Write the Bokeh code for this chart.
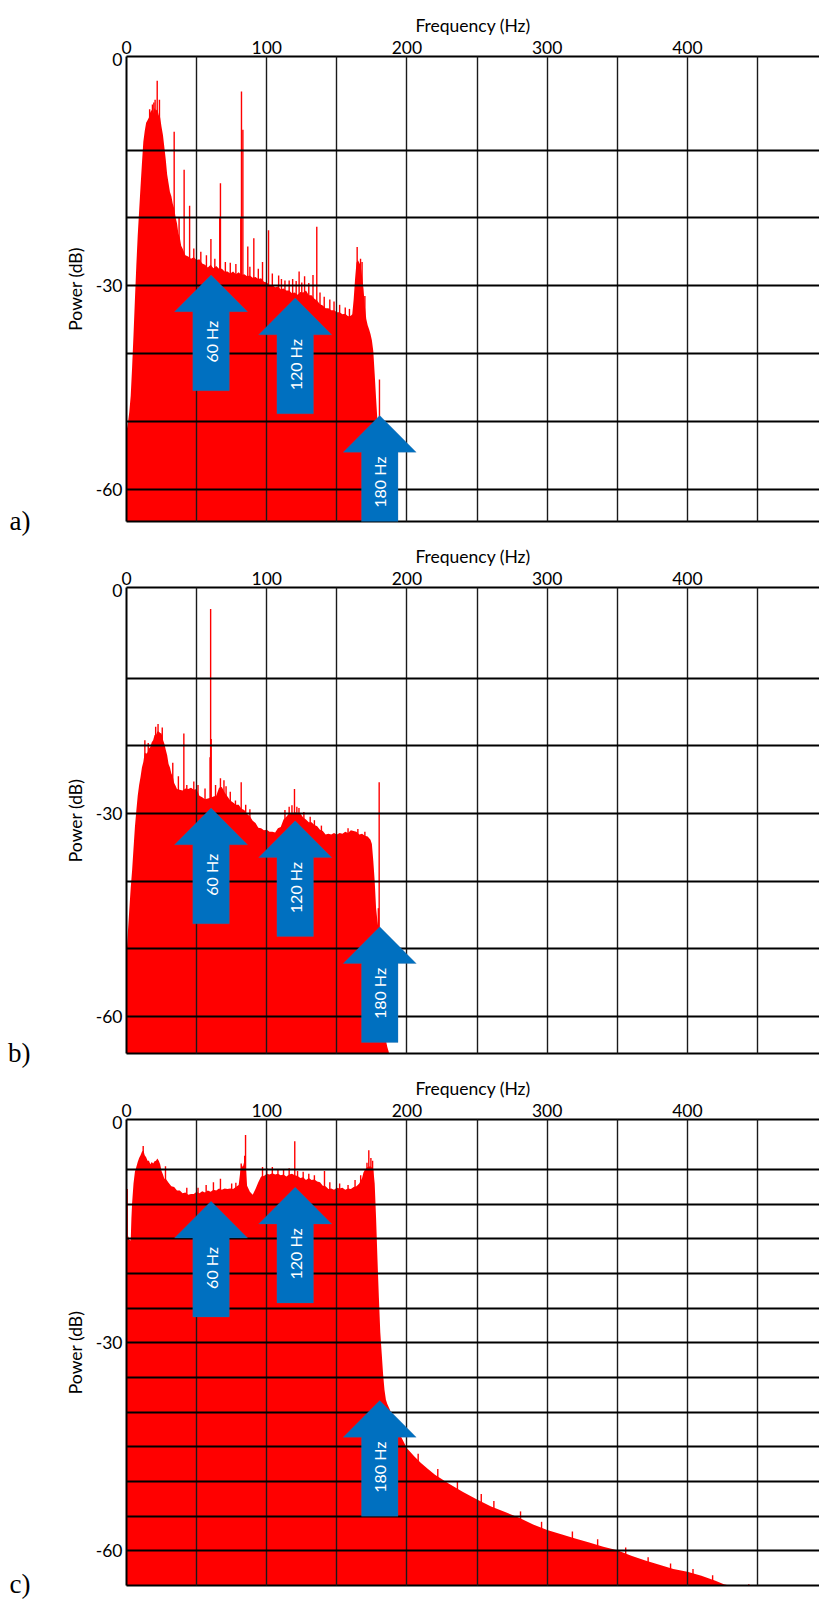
import math
from bokeh.plotting import figure
from bokeh.models import (Range1d, FixedTicker, LinearAxis, PolyAnnotation, Label,
                          CustomJSTickFormatter)
from bokeh.layouts import column
from bokeh.embed import file_html
from bokeh.resources import INLINE

# ---------------- data ----------------
# panel a
freq_a = list(range(0, 41)) + list(range(42, 161, 2)) + list(range(161, 182)) + [181.5]
power_a = [-51.5, -50.2, -48.6, -46.2, -42.0, -37.2, -32.0, -27.0, -22.6, -19.0,
           -15.4, -12.0, -8.8, -7.2, -6.0, -5.6, -5.2, -4.4, -4.1, -4.6,
           -3.8, -4.2, -4.0, -4.9, -5.2, -6.6, -7.8, -9.6, -11.4, -13.6,
           -14.9, -16.2, -16.8, -17.9, -18.6, -19.9, -20.8, -22.3, -22.9, -24.1,
           -24.5,
           -25.5, -25.7, -26.0, -25.8, -26.2, -26.1, -26.7, -26.9, -27.3, -26.9,
           -27.4, -27.1, -27.5, -27.5, -27.9, -27.9, -28.2, -27.9, -28.3, -28.0,
           -28.4, -28.3, -28.6, -28.5, -28.8, -28.7, -29.0, -28.9, -29.4, -29.5,
           -29.9, -29.9, -30.2, -30.1, -30.5, -30.4, -30.7, -30.7, -31.1, -31.0,
           -31.3, -30.9, -31.0, -30.7, -31.4, -31.4, -31.9, -32.2, -32.7, -32.9,
           -33.3, -33.3, -33.6, -33.6, -33.9, -33.9, -34.2, -34.1, -34.5, -34.4,
           -34.2, -32.0, -29.0, -26.6, -26.2, -26.6, -27.0, -28.6, -30.4, -33.0,
           -34.9, -35.8, -36.4, -37.1, -38.0, -39.6, -43.0, -46.6, -50.0, -54.0,
           -60.0, -66.0]
spike_f_a = [16.5, 18.5, 19.5, 20.4, 21.9, 23.5, 34.0, 37.5, 41.1, 45.0,
             48.0, 53.0, 57.0, 60.2, 63.0, 66.5, 67.0, 70.5, 74.0, 78.0,
             81.5, 82.0, 83.0, 86.5, 88.0, 90.8, 94.0, 97.0, 101.3, 104.0,
             108.5, 110.5, 113.0, 116.0, 118.5, 121.0, 123.1, 125.0, 127.0, 130.0,
             133.0, 135.7, 138.0, 141.0, 145.0, 148.0, 152.0, 156.0, 159.0, 164.5,
             166.9, 168.0, 170.0, 180.4]
spike_db_a = [-4.0, -3.3, -3.0, -2.6, 0.2, -2.6, -7.3, -20.0, -12.9, -18.2,
              -24.5, -25.0, -25.5, -23.1, -26.0, -20.0, -14.9, -26.5, -26.6, -26.8,
              -20.0, -1.4, -7.0, -24.2, -27.2, -23.0, -27.5, -26.5, -21.8, -28.2,
              -28.5, -29.0, -29.2, -29.2, -29.0, -29.3, -27.9, -29.5, -28.6, -29.6,
              -28.4, -21.3, -31.0, -31.6, -32.0, -32.3, -32.8, -33.2, -33.4, -24.3,
              -26.0, -26.5, -31.5, -43.8]

# panel b
freq_b = list(range(0, 37)) + list(range(38, 175, 2)) + list(range(175, 189))
power_b = [-51.0, -47.5, -44.2, -41.0, -38.4, -35.2, -32.0, -29.6, -27.4, -25.8,
           -24.6, -23.2, -22.4, -21.0, -21.2, -21.0, -20.4, -20.2, -19.5, -19.2,
           -18.4, -18.4, -17.9, -17.9, -18.1, -18.2, -19.1, -19.7, -20.6, -21.4,
           -22.7, -23.2, -24.1, -24.5, -25.5, -25.9, -26.4,
           -26.5, -26.6, -26.3, -26.4, -26.2, -26.5, -26.4, -27.4, -27.6, -27.9,
           -27.8, -27.7, -27.5, -27.4, -26.2, -26.1, -26.9, -27.5, -28.1, -28.4,
           -28.7, -28.7, -29.3, -29.5, -30.1, -30.4, -31.1, -31.4, -32.1, -32.2,
           -32.5, -32.4, -32.7, -32.7, -32.8, -32.2, -32.0, -30.9, -30.5, -30.0,
           -30.1, -29.8, -30.1, -30.0, -30.6, -30.9, -31.3, -31.3, -31.7, -31.9,
           -32.4, -32.6, -33.1, -33.0, -33.1, -32.9, -33.1, -32.9, -33.0, -32.7,
           -32.9, -32.5, -32.6, -32.7, -33.1, -33.0, -33.3, -33.4, -33.9,
           -34.5, -37.0, -40.0, -44.0, -46.0, -47.5, -50.7, -55.0, -59.0, -61.5,
           -63.5, -64.5, -65.2, -67.0]
spike_f_b = [13.1, 15.5, 20.8, 22.5, 25.5, 33.0, 37.0, 40.9, 43.0, 48.0,
             51.0, 56.0, 59.6, 60.0, 60.4, 63.5, 67.0, 69.5, 71.0, 74.0,
             77.7, 81.8, 85.0, 88.0, 113.0, 116.0, 118.0, 119.8, 121.5, 123.0,
             126.5, 131.0, 134.0, 139.0, 158.0, 165.0, 170.0, 179.6, 180.2]
spike_db_b = [-19.2, -19.6, -17.2, -16.8, -17.3, -22.5, -24.5, -18.2, -25.8, -25.3,
              -25.8, -26.3, -21.7, 0.2, -19.0, -25.8, -24.8, -25.1, -26.0, -26.8,
              -28.1, -25.4, -28.7, -29.4, -29.5, -29.0, -28.8, -26.4, -29.0, -29.2,
              -29.8, -30.5, -31.0, -31.8, -32.2, -32.3, -32.7, -44.0, -25.4]

# panel c
freq_c = ([0, 0.5, 1, 2, 3, 3.5] + list(range(4, 29)) + list(range(30, 81, 2))
          + [81, 82, 83, 84, 85, 86] + list(range(88, 167, 2))
          + [168, 169, 170, 172, 174, 176, 177, 178, 179, 180, 181, 182, 183, 184, 185, 186, 188]
          + [190, 195, 200, 205, 210, 215, 220, 230, 240, 250, 260, 270, 280, 290, 300,
             310, 320, 330, 340, 350, 360, 370, 380, 390, 400, 410, 420, 426, 432, 438])
power_c = [-9.0, -8.0, -14.5, -15.1, -15.2, -12.0,
           -9.8, -7.0, -5.3, -4.6, -3.9, -3.3, -2.9, -2.4, -2.2, -2.9,
           -3.2, -3.7, -3.7, -4.2, -3.9, -4.1, -3.8, -3.7, -3.4, -3.7,
           -4.2, -5.2, -5.7, -6.3, -6.3,
           -6.9, -7.4, -7.5, -8.0, -8.0, -8.4, -8.3, -8.6, -8.5, -8.5,
           -8.2, -8.4, -8.1, -8.3, -8.0, -8.2, -7.9, -8.0, -7.7, -7.9,
           -7.7, -7.8, -7.7, -7.8, -7.5, -7.2,
           -5.5, -4.2, -4.6, -3.8, -4.5, -7.3,
           -8.2, -8.6, -7.8, -6.8, -6.0, -5.9, -5.6, -5.7, -5.5, -5.7,
           -5.6, -5.8, -5.7, -6.0, -5.7, -5.6, -5.8, -5.9, -6.2, -6.1,
           -6.5, -6.2, -6.5, -6.4, -6.7, -6.8, -7.3, -7.4, -7.8, -7.7,
           -7.9, -7.6, -7.7, -7.6, -7.9, -7.7, -7.8, -7.5, -7.4, -7.0,
           -6.2, -5.4, -5.0, -4.6, -4.5, -4.9, -7.0, -12.0, -18.0, -23.5,
           -28.5, -31.5, -34.5, -36.8, -38.2, -38.8, -39.7,
           -41.0, -43.2, -45.2, -46.3, -47.3, -48.2, -49.0, -50.3, -51.5, -52.6,
           -53.6, -54.4, -55.2, -56.2, -57.0, -57.6, -58.2, -58.8, -59.4, -59.9,
           -60.7, -61.4, -62.0, -62.6, -63.0, -63.6, -64.3, -64.8, -65.1, -66.0]
spike_f_c = [0.5, 11.9, 27.8, 43.0, 51.0, 56.8, 62.0, 67.0, 75.0, 78.0,
             81.8, 84.3, 84.9, 97.0, 100.0, 104.0, 108.0, 112.0, 116.0, 120.0,
             122.0, 126.0, 130.0, 134.0, 141.2, 145.0, 152.0, 158.0, 163.0, 167.0,
             171.5, 172.8, 174.3, 175.5, 208.0, 222.0, 236.0, 253.0, 262.0, 281.0,
             296.0, 318.0, 336.0, 356.0, 372.0, 388.0, 404.0, 418.0, 443.8]
spike_db_c = [-7.8, -1.6, -4.5, -7.6, -7.6, -7.2, -6.8, -6.3, -7.0, -6.9,
              -4.1, -3.0, 0.0, -4.6, -4.8, -4.6, -5.0, -4.9, -4.8, -0.9,
              -5.2, -5.3, -5.6, -5.8, -5.2, -6.8, -7.0, -7.2, -6.5, -5.8,
              -4.0, -2.2, -3.3, -3.7, -46.0, -48.2, -50.0, -51.8, -52.8, -54.3,
              -55.8, -57.2, -58.3, -59.5, -60.9, -61.8, -62.6, -63.5, -64.8]

# annotation arrows
arrow_text = ["60 Hz", "120 Hz", "180 Hz"]
arrow_freq = [60.3, 120.3, 180.6]
arrow_tip_a = [-28.4, -31.8, -49.1]
arrow_tip_b = [-29.2, -31.1, -46.75]
arrow_tip_c = [-9.55, -7.53, -38.3]

x_tick_labels = [0, 100, 200, 300, 400]
x_grid_ticks = [50, 100, 150, 200, 250, 300, 350, 400, 450]
y_label_ticks = [-60, -30]
y_grid_a = [-10, -20, -30, -40, -50, -60]
y_grid_c = [-5, -10, -15, -20, -25, -30, -35, -40, -45, -50, -55, -60]

for fr, pw in ((freq_a, power_a), (freq_b, power_b), (freq_c, power_c)):
    assert len(fr) == len(pw), (len(fr), len(pw))
assert len(spike_f_a) == len(spike_db_a)
assert len(spike_f_b) == len(spike_db_b)
assert len(spike_f_c) == len(spike_db_c)

# ---------------- styling / layout ----------------
FONT = "Lato"
PX_PER_HZ = 1.4022
FIG_W = 819
LEFT = 126
FRAME_W = FIG_W - LEFT
X_MAX = FRAME_W / PX_PER_HZ
RED = "#FF0000"
BLUE = "#0070C0"


def build(freq, power, sf, sdb, ytop, ybot, grid_ticks, tips, letter,
          frame_h, border_top, border_bottom):
    height = border_top + frame_h + border_bottom
    p = figure(width=FIG_W, height=height, output_backend="svg", toolbar_location=None,
               x_range=Range1d(0, X_MAX), y_range=Range1d(ybot, ytop),
               x_axis_location="above",
               min_border_left=LEFT, min_border_right=0, min_border_top=border_top,
               min_border_bottom=border_bottom)
    p.outline_line_color = None
    p.background_fill_color = "white"
    p.border_fill_color = "white"

    floor = ybot - 3
    p.varea(x=freq, y1=floor, y2=power, fill_color=RED)
    p.segment(x0=sf, y0=[floor] * len(sf), x1=sf, y1=sdb, line_color=RED, line_width=1.4)

    # top axis
    xa = p.xaxis[0]
    xa.ticker = FixedTicker(ticks=x_tick_labels)
    xa.axis_label = "Frequency (Hz)"
    xa.axis_label_text_font = FONT
    xa.axis_label_text_font_size = "17.5px"
    xa.axis_label_text_font_style = "normal"
    xa.axis_label_text_color = "black"
    xa.axis_label_standoff = 2
    xa.major_label_standoff = 3
    xa.major_label_text_font = FONT
    xa.major_label_text_font_size = "17.5px"
    xa.major_label_text_color = "black"
    xa.major_tick_out = 0
    xa.major_tick_in = 0
    xa.minor_tick_out = 0
    xa.minor_tick_in = 0
    xa.axis_line_width = 2
    xa.axis_line_color = "black"

    # left axis
    ya = p.yaxis[0]
    ya.ticker = FixedTicker(ticks=y_label_ticks + [ytop - 0.4])
    ya.formatter = CustomJSTickFormatter(code="return tick > 0 ? '0' : tick.toFixed(0);")
    ya.axis_label = "Power (dB)"
    ya.axis_label_text_font = FONT
    ya.axis_label_text_font_size = "17.5px"
    ya.axis_label_text_font_style = "normal"
    ya.axis_label_text_color = "black"
    ya.axis_label_standoff = 7
    ya.major_label_standoff = 4
    ya.major_label_text_font = FONT
    ya.major_label_text_font_size = "17.5px"
    ya.major_label_text_color = "black"
    ya.major_tick_out = 0
    ya.major_tick_in = 0
    ya.minor_tick_out = 0
    ya.minor_tick_in = 0
    ya.axis_line_width = 2
    ya.axis_line_color = "black"

    # panel letter, as the single label of an outer left axis
    la = LinearAxis(ticker=FixedTicker(ticks=[ybot + 0.05]),
                    formatter=CustomJSTickFormatter(code="return '%s';" % letter),
                    major_label_text_font="Liberation Serif",
                    major_label_text_font_size="27px",
                    major_label_text_color="black",
                    major_label_standoff=31,
                    major_tick_out=0, major_tick_in=0, minor_tick_out=0, minor_tick_in=0,
                    axis_line_color=None)
    p.add_layout(la, "left")

    # bottom line
    bax = LinearAxis(ticker=FixedTicker(ticks=[]), major_label_text_font_size="0px",
                     major_tick_out=0, major_tick_in=0, minor_tick_out=0, minor_tick_in=0,
                     major_label_standoff=0, axis_line_width=2, axis_line_color="black")
    p.add_layout(bax, "below")

    # grids (drawn over the spectrum)
    p.xgrid.ticker = FixedTicker(ticks=x_grid_ticks)
    p.xgrid.grid_line_color = "#1a1a1a"
    p.xgrid.grid_line_width = 1.4
    p.xgrid.level = "guide"
    p.ygrid.ticker = FixedTicker(ticks=grid_ticks)
    p.ygrid.grid_line_color = "black"
    p.ygrid.grid_line_width = 1.8
    p.ygrid.level = "guide"

    # arrows
    dy = (ytop - ybot) / frame_h
    offs = [(0, 0), (36.5, 36.7), (18.25, 36.7), (18.25, 115.7),
            (-18.25, 115.7), (-18.25, 36.7), (-36.5, 36.7)]
    for f, t, txt in zip(arrow_freq, tips, arrow_text):
        xs = [f + ox / PX_PER_HZ for ox, oy in offs]
        ys = [t - oy * dy for ox, oy in offs]
        p.add_layout(PolyAnnotation(xs=xs, ys=ys, fill_color=BLUE, fill_alpha=1.0,
                                    line_color="#3470A8", line_width=1, level="annotation"))
        p.add_layout(Label(x=f, y=t - (36.7 + 30) * dy, text=txt, angle=math.pi / 2,
                           text_align="center", text_baseline="middle", text_color="white",
                           text_font=FONT, text_font_size="16px", level="annotation"))
    return p


pa = build(freq_a, power_a, spike_f_a, spike_db_a, 3.77, -64.71, y_grid_a, arrow_tip_a,
           "a)", 465, 56, 18)
pb = build(freq_b, power_b, spike_f_b, spike_db_b, 3.38, -65.47, y_grid_a, arrow_tip_b,
           "b)", 466, 48, 18)
pc = build(freq_c, power_c, spike_f_c, spike_db_c, 2.24, -64.99, y_grid_c, arrow_tip_c,
           "c)", 466, 48, 14)

layout = column(pa, pb, pc, spacing=0)
open("out.html", "w").write(file_html(layout, INLINE))
